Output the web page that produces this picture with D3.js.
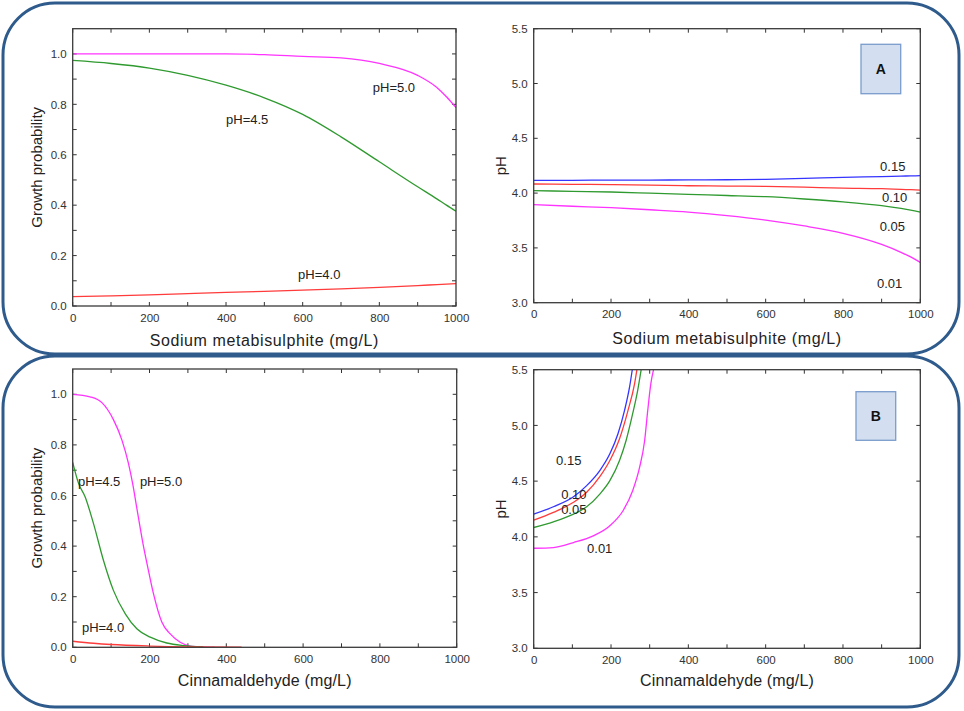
<!DOCTYPE html>
<html>
<head>
<meta charset="utf-8">
<script src="https://cdn.jsdelivr.net/npm/d3@7/dist/d3.min.js"></script>
<style>
  html, body { margin: 0; padding: 0; background: #fff; }
  svg { display: block; font-family: "Liberation Sans", Arial, sans-serif; }
</style>
</head>
<body>
<svg id="chart" width="964" height="711"></svg>
<script>
// ---------------- DATA ----------------
// Panel A (top): Sodium metabisulphite
const smbsDose = [0, 100, 200, 300, 400, 500, 600, 700, 800, 900, 950, 975, 1000];
const smbsProbPH50 = [1.0, 1.0, 1.0, 1.0, 1.0, 0.997, 0.99, 0.984, 0.962, 0.915, 0.867, 0.83, 0.787];
const smbsProbPH45 = [0.974, 0.962, 0.944, 0.915, 0.876, 0.826, 0.760, 0.671, 0.572, 0.473, 0.425, 0.40, 0.376];
const smbsProbPH40 = [0.037, 0.040, 0.044, 0.049, 0.054, 0.058, 0.063, 0.068, 0.074, 0.081, 0.085, 0.087, 0.089];

const smbsIsoP15 = [4.116, 4.117, 4.118, 4.119, 4.120, 4.122, 4.126, 4.134, 4.144, 4.151, 4.155, 4.157, 4.159];
const smbsIsoP10 = [4.083, 4.080, 4.077, 4.072, 4.067, 4.064, 4.061, 4.054, 4.046, 4.040, 4.034, 4.031, 4.028];
const smbsIsoP05 = [4.022, 4.016, 4.010, 3.999, 3.988, 3.978, 3.967, 3.946, 3.920, 3.885, 3.860, 3.845, 3.827];
const smbsIsoP01 = [3.894, 3.880, 3.867, 3.848, 3.827, 3.795, 3.754, 3.700, 3.633, 3.532, 3.460, 3.418, 3.368];

// Panel B (bottom): Cinnamaldehyde
const cinDosePH50 = [0, 45, 76, 106, 128, 145, 157, 167, 183, 195, 210, 232, 254, 280, 306, 340, 370];
const cinProbPH50 = [1.0, 0.99, 0.967, 0.90, 0.82, 0.728, 0.64, 0.55, 0.41, 0.32, 0.214, 0.10, 0.053, 0.02, 0.005, 0.001, 0.0];
const cinDosePH45 = [0, 15, 32, 54, 80, 106, 137, 167, 202, 245, 289, 340];
const cinProbPH45 = [0.731, 0.649, 0.596, 0.49, 0.344, 0.225, 0.132, 0.073, 0.04, 0.017, 0.007, 0.002];
const cinDosePH40 = [0, 54, 100, 200, 300, 440];
const cinProbPH40 = [0.024, 0.016, 0.011, 0.005, 0.002, 0.001];

const cinDoseP15 = [0, 51, 103, 137, 171, 197, 218, 235, 248, 255];
const cinIsoP15  = [4.204, 4.27, 4.36, 4.46, 4.595, 4.745, 4.925, 5.135, 5.345, 5.5];
const cinDoseP10 = [0, 51, 103, 137, 171, 197, 222, 244, 261, 267];
const cinIsoP10  = [4.15, 4.22, 4.31, 4.40, 4.54, 4.685, 4.88, 5.135, 5.375, 5.5];
const cinDoseP05 = [0, 51, 103, 137, 171, 197, 222, 239, 256, 269, 278];
const cinIsoP05  = [4.084, 4.135, 4.204, 4.27, 4.384, 4.504, 4.685, 4.865, 5.105, 5.315, 5.5];
const cinDoseP01 = [0, 51, 103, 154, 197, 231, 256, 274, 287, 295, 303, 310];
const cinIsoP01  = [3.898, 3.904, 3.949, 4.009, 4.10, 4.234, 4.414, 4.625, 4.865, 5.135, 5.375, 5.5];

// Tick values / labels
const doseTicks = [0, 200, 400, 600, 800, 1000];
const doseMinorTicks = [0, 100, 200, 300, 400, 500, 600, 700, 800, 900, 1000];
const probTicks = [0.0, 0.2, 0.4, 0.6, 0.8, 1.0];
const probMinorTicks = [0.0, 0.1, 0.2, 0.3, 0.4, 0.5, 0.6, 0.7, 0.8, 0.9, 1.0];
const phTicks = [3.0, 3.5, 4.0, 4.5, 5.0, 5.5];

// Curve labels (text, x value, y value)
const labelsTL = [["pH=5.0", 783, 0.865], ["pH=4.5", 400, 0.74], ["pH=4.0", 588, 0.127]];
const labelsTR = [["0.15", 896, 4.241], ["0.10", 901, 3.958], ["0.05", 895, 3.70], ["0.01", 888, 3.18]];
const labelsBL = [["pH=4.5", 14, 0.657], ["pH=5.0", 175, 0.657], ["pH=4.0", 24, 0.08]];
const labelsBR = [["0.15", 58, 4.69], ["0.10", 71, 4.384], ["0.05", 71, 4.25], ["0.01", 138, 3.90]];

const COL = { magenta: "#ff33ff", green: "#2f9a2f", red: "#ff3b3b", blue: "#3535ff" };

// ---------------- DRAW ----------------
const svg = d3.select("#chart");

// Rounded frames
const frames = [[3, 3, 956, 351], [3, 356, 956, 351]];
frames.forEach(f => {
  svg.append("rect").attr("x", f[0]).attr("y", f[1]).attr("width", f[2]).attr("height", f[3])
    .attr("rx", 52).attr("ry", 52).attr("fill", "none")
    .attr("stroke", "#2e5b8c").attr("stroke-width", 3);
});

function panel(cfg) {
  const g = svg.append("g");
  const x = d3.scaleLinear().domain([0, 1000]).range([cfg.left, cfg.right]);
  const y = d3.scaleLinear().domain(cfg.yDomain).range([cfg.bottom, cfg.top]);

  // tick marks (inside, all four sides)
  const tl = 4;
  const tg = g.append("g").attr("stroke", "#333").attr("stroke-width", 1);
  cfg.xMinor.forEach(v => {
    tg.append("line").attr("x1", x(v)).attr("x2", x(v)).attr("y1", cfg.bottom).attr("y2", cfg.bottom - tl);
    tg.append("line").attr("x1", x(v)).attr("x2", x(v)).attr("y1", cfg.top).attr("y2", cfg.top + tl);
  });
  cfg.yMinor.forEach(v => {
    tg.append("line").attr("x1", cfg.left).attr("x2", cfg.left + tl).attr("y1", y(v)).attr("y2", y(v));
    tg.append("line").attr("x1", cfg.right).attr("x2", cfg.right - tl).attr("y1", y(v)).attr("y2", y(v));
  });

  // curves
  const line = d3.line().x(d => x(d[0])).y(d => y(d[1])).curve(d3.curveMonotoneX);
  const clipId = "clip" + cfg.id;
  g.append("clipPath").attr("id", clipId).append("rect")
    .attr("x", cfg.left).attr("y", cfg.top).attr("width", cfg.right - cfg.left).attr("height", cfg.bottom - cfg.top);
  cfg.series.forEach(s => {
    const pts = s.xs.map((v, i) => [v, s.ys[i]]);
    g.append("path").attr("d", line(pts)).attr("fill", "none")
      .attr("stroke", s.color).attr("stroke-width", 1.3).attr("clip-path", `url(#${clipId})`);
  });

  // frame
  g.append("rect").attr("x", cfg.left).attr("y", cfg.top)
    .attr("width", cfg.right - cfg.left).attr("height", cfg.bottom - cfg.top)
    .attr("fill", "none").attr("stroke", "#3a3a3a").attr("stroke-width", 1.3);

  // axes labels
  const axX = d3.axisBottom(x).tickValues(cfg.xTicks).tickSize(0).tickPadding(cfg.xPad).tickFormat(d3.format("d"));
  const gx = g.append("g").attr("transform", `translate(0,${cfg.bottom})`).call(axX);
  gx.select(".domain").remove();
  gx.selectAll("text").attr("font-size", 11.5).attr("fill", "#333").attr("font-family", "Liberation Sans, Arial, sans-serif");

  const axY = d3.axisLeft(y).tickValues(cfg.yTicks).tickSize(0).tickPadding(6).tickFormat(d3.format(".1f"));
  const gy = g.append("g").attr("transform", `translate(${cfg.left},0)`).call(axY);
  gy.select(".domain").remove();
  gy.selectAll("text").attr("font-size", 11.5).attr("fill", "#333").attr("font-family", "Liberation Sans, Arial, sans-serif");

  // titles
  g.append("text").attr("x", (cfg.left + cfg.right) / 2).attr("y", cfg.xTitleY)
    .attr("text-anchor", "middle").attr("font-size", 16).attr("letter-spacing", cfg.xTitleSpacing)
    .attr("fill", "#222").text(cfg.xTitle);
  g.append("text").attr("transform", `translate(${cfg.yTitleX},${(cfg.top + cfg.bottom) / 2}) rotate(-90)`)
    .attr("text-anchor", "middle").attr("font-size", 15).attr("fill", "#222").text(cfg.yTitle);

  // curve labels
  cfg.labels.forEach(l => {
    g.append("text").attr("x", x(l[1])).attr("y", y(l[2])).attr("dy", "0.35em")
      .attr("font-size", 13).attr("fill", "#222").text(l[0]);
  });

  // letter box
  if (cfg.box) {
    const b = cfg.box;
    g.append("rect").attr("x", b.x).attr("y", b.y).attr("width", b.w).attr("height", b.h)
      .attr("fill", "#d3dff0").attr("stroke", "#7a9ccc").attr("stroke-width", 1.3);
    g.append("text").attr("x", b.x + b.w / 2).attr("y", b.y + b.h / 2).attr("dy", "0.36em")
      .attr("text-anchor", "middle").attr("font-size", 14).attr("font-weight", "bold")
      .attr("font-family", "Liberation Sans, Arial, sans-serif").attr("fill", "#111").text(b.text);
  }
}

panel({
  id: "tl", left: 72.7, right: 456, top: 28.7, bottom: 306, yDomain: [0, 1.1],
  xTicks: doseTicks, xMinor: doseMinorTicks, yTicks: probTicks, yMinor: probMinorTicks, xPad: 8,
  xTitle: "Sodium metabisulphite (mg/L)", xTitleY: 346, xTitleSpacing: 0.6,
  yTitle: "Growth probability", yTitleX: 42,
  series: [
    { xs: smbsDose, ys: smbsProbPH50, color: COL.magenta },
    { xs: smbsDose, ys: smbsProbPH45, color: COL.green },
    { xs: smbsDose, ys: smbsProbPH40, color: COL.red }
  ],
  labels: labelsTL
});

panel({
  id: "tr", left: 533.7, right: 920.3, top: 28.7, bottom: 302.7, yDomain: [3.0, 5.5],
  xTicks: doseTicks, xMinor: doseMinorTicks, yTicks: phTicks, yMinor: phTicks, xPad: 7,
  xTitle: "Sodium metabisulphite (mg/L)", xTitleY: 344, xTitleSpacing: 0.6,
  yTitle: "pH", yTitleX: 506,
  series: [
    { xs: smbsDose, ys: smbsIsoP15, color: COL.blue },
    { xs: smbsDose, ys: smbsIsoP10, color: COL.red },
    { xs: smbsDose, ys: smbsIsoP05, color: COL.green },
    { xs: smbsDose, ys: smbsIsoP01, color: COL.magenta }
  ],
  labels: labelsTR,
  box: { x: 861, y: 44.3, w: 39.7, h: 49.4, text: "A" }
});

panel({
  id: "bl", left: 72.7, right: 456.7, top: 369, bottom: 647.3, yDomain: [0, 1.1],
  xTicks: doseTicks, xMinor: doseMinorTicks, yTicks: probTicks, yMinor: probMinorTicks, xPad: 8,
  xTitle: "Cinnamaldehyde (mg/L)", xTitleY: 686, xTitleSpacing: 0.15,
  yTitle: "Growth probability", yTitleX: 42,
  series: [
    { xs: cinDosePH50, ys: cinProbPH50, color: COL.magenta },
    { xs: cinDosePH45, ys: cinProbPH45, color: COL.green },
    { xs: cinDosePH40, ys: cinProbPH40, color: COL.red }
  ],
  labels: labelsBL
});

panel({
  id: "br", left: 533.7, right: 920.3, top: 369.7, bottom: 648.3, yDomain: [3.0, 5.5],
  xTicks: doseTicks, xMinor: doseMinorTicks, yTicks: phTicks, yMinor: phTicks, xPad: 8,
  xTitle: "Cinnamaldehyde (mg/L)", xTitleY: 686, xTitleSpacing: 0.15,
  yTitle: "pH", yTitleX: 506,
  series: [
    { xs: cinDoseP15, ys: cinIsoP15, color: COL.blue },
    { xs: cinDoseP10, ys: cinIsoP10, color: COL.red },
    { xs: cinDoseP05, ys: cinIsoP05, color: COL.green },
    { xs: cinDoseP01, ys: cinIsoP01, color: COL.magenta }
  ],
  labels: labelsBR,
  box: { x: 856, y: 391.7, w: 39.7, h: 48.6, text: "B" }
});
</script>
</body>
</html>
